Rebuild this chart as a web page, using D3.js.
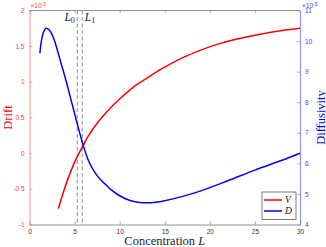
<!DOCTYPE html>
<html>
<head>
<meta charset="utf-8">
<script src="https://cdn.jsdelivr.net/npm/d3@7"></script>
<style>
  body { margin: 0; background: #fff; }
  svg { display: block; }
  .tick-label { font-family: "Liberation Sans", Arial, sans-serif; font-size: 6.5px; }
  .axis-label { font-family: "Liberation Serif", "Times New Roman", serif; font-size: 12.5px; }
</style>
</head>
<body>
<div id="chart-area"></div>
<script>
// drift V (x 1e-3) against concentration L
const driftL = [3.2, 3.75, 4.5, 5.25, 6, 6.5, 7.5, 8.5, 9.3, 10, 11.15, 12, 13, 14.5, 17, 19, 20.8, 23, 25.6, 28, 30];
const driftV = [-0.78, -0.55, -0.28, -0.06, 0.12, 0.235, 0.42, 0.57, 0.676, 0.76, 0.887, 0.97, 1.05, 1.17, 1.34, 1.445, 1.525, 1.6, 1.668, 1.718, 1.75];

// diffusivity D (x 1e-5) against concentration L
const diffL = [1.15, 1.5, 1.85, 2.2, 2.6, 3, 3.5, 4, 4.5, 5, 5.5, 6, 6.5, 7, 7.5, 8, 8.5, 9, 10, 11, 12, 13, 14, 15, 17, 19, 22, 25, 28, 30];
const diffD = [9.6, 10.25, 10.42, 10.36, 10.15, 9.8, 9.27, 8.76, 8.2, 7.63, 7.07, 6.55, 6.12, 5.82, 5.6, 5.43, 5.29, 5.15, 4.94, 4.8, 4.73, 4.71, 4.73, 4.78, 4.92, 5.1, 5.43, 5.78, 6.1, 6.33];

const xTicks = [0, 5, 10, 15, 20, 25, 30];
const driftTicks = [-1, -0.5, 0, 0.5, 1, 1.5, 2];
const diffTicks = [4, 5, 6, 7, 8, 9, 10, 11];
const markers = [{ name: "0", L: 5.3 }, { name: "1", L: 5.85 }];
const legendItems = [{ name: "V", color: "#ff0000" }, { name: "D", color: "#0000ff" }];

const drawChart = () => {
  const chartSize = { width: 326, height: 247 };
  const margin = { left: 29.5, right: 26, top: 10.5, bottom: 22.5 };
  const width = chartSize.width - (margin.left + margin.right);
  const height = chartSize.height - (margin.top + margin.bottom);
  const fmt = d => String(d);

  const x = d3.scaleLinear().domain([0, 30]).range([0, width]);
  const yLeft = d3.scaleLinear().domain([-1, 2]).range([height, 0]);
  const yRight = d3.scaleLinear().domain([4, 11]).range([height, 0]);

  const svg = d3
    .select("#chart-area")
    .append("svg")
    .attr("width", chartSize.width)
    .attr("height", chartSize.height);

  const g = svg
    .append("g")
    .attr("transform", `translate(${margin.left}, ${margin.top})`);

  // box top
  g.append("line").attr("x1", 0).attr("x2", width).attr("y1", 0).attr("y2", 0)
    .attr("stroke", "#777").attr("stroke-width", 0.8);

  const xAxis = d3.axisBottom(x).tickValues(xTicks).tickFormat(fmt)
    .tickSizeInner(-3).tickSizeOuter(0).tickPadding(5);
  const xg = g.append("g")
    .attr("class", "x-axis")
    .attr("transform", `translate(0, ${height})`)
    .call(xAxis);
  xg.select(".domain").attr("stroke", "#777").attr("stroke-width", 0.8);
  xg.selectAll("line").attr("stroke", "#777").attr("stroke-width", 0.6);
  xg.selectAll("text").attr("class", "tick-label").attr("fill", "#333").attr("font-size", null).attr("font-family", null);

  const xTop = d3.axisTop(x).tickValues(xTicks).tickSizeInner(-3).tickSizeOuter(0).tickFormat("");
  const xt = g.append("g").call(xTop);
  xt.select(".domain").remove();
  xt.selectAll("line").attr("stroke", "#777").attr("stroke-width", 0.6);

  const yAxisL = d3.axisLeft(yLeft).tickValues(driftTicks).tickFormat(fmt)
    .tickSizeInner(-3).tickSizeOuter(0).tickPadding(5);
  const yl = g.append("g").call(yAxisL);
  yl.select(".domain").attr("stroke", "#ff7070").attr("stroke-width", 0.8);
  yl.selectAll("line").attr("stroke", "#ff7070").attr("stroke-width", 0.6);
  yl.selectAll("text").attr("class", "tick-label").attr("fill", "#ff4040").attr("font-size", null).attr("font-family", null);

  const yAxisR = d3.axisRight(yRight).tickValues(diffTicks).tickFormat(fmt)
    .tickSizeInner(-3).tickSizeOuter(0).tickPadding(5);
  const yr = g.append("g").attr("transform", `translate(${width}, 0)`).call(yAxisR);
  yr.select(".domain").attr("stroke", "#7070ff").attr("stroke-width", 0.8);
  yr.selectAll("line").attr("stroke", "#7070ff").attr("stroke-width", 0.6);
  yr.selectAll("text").attr("class", "tick-label").attr("fill", "#4040ff").attr("font-size", null).attr("font-family", null);

  // exponent labels
  const expo = (xPos, color, p) => {
    const t = g.append("text").attr("class", "tick-label").attr("x", xPos).attr("y", -3).attr("fill", color);
    t.append("tspan").text("×10");
    t.append("tspan").attr("dy", -2).attr("font-size", "5px").text(p);
  };
  expo(1, "#ff4040", "-3");
  expo(width + 2, "#4040ff", "-5");

  // dashed marker lines
  g.selectAll(".marker")
    .data(markers)
    .enter()
    .append("line")
    .attr("x1", d => x(d.L)).attr("x2", d => x(d.L))
    .attr("y1", 0).attr("y2", height)
    .attr("stroke", "#8c8c8c").attr("stroke-width", 1)
    .attr("stroke-dasharray", "4,2.5");

  markers.forEach((m, i) => {
    const t = g.append("text")
      .attr("class", "axis-label")
      .style("font-size", "11.5px")
      .attr("x", i === 0 ? x(m.L) - 2.5 : x(m.L) + 2.5)
      .attr("y", 10)
      .attr("text-anchor", i === 0 ? "end" : "start")
      .attr("fill", "#222");
    t.append("tspan").attr("font-style", "italic").text("L");
    t.append("tspan").style("font-size", "8px").attr("dy", 2).text(m.name);
  });

  const line = (xs, ys, scale) =>
    d3.line().x((d, i) => x(xs[i])).y(d => scale(d)).curve(d3.curveCatmullRom.alpha(0.5))(ys);

  g.append("path").attr("d", line(driftL, driftV, yLeft))
    .attr("fill", "none").attr("stroke", "#ff0000").attr("stroke-width", 1.5);
  g.append("path").attr("d", line(diffL, diffD, yRight))
    .attr("fill", "none").attr("stroke", "#0000ff").attr("stroke-width", 1.5);

  // axis labels
  g.append("text")
    .attr("class", "axis-label")
    .attr("x", width / 2)
    .attr("y", height + 20.5)
    .attr("text-anchor", "middle")
    .attr("fill", "#222")
    .call(t => {
      t.append("tspan").text("Concentration ");
      t.append("tspan").attr("font-style", "italic").text("L");
    });

  g.append("text")
    .attr("class", "axis-label")
    .attr("transform", `translate(${-18}, ${height / 2}) rotate(-90)`)
    .attr("text-anchor", "middle")
    .attr("fill", "#ff0000")
    .text("Drift");

  g.append("text")
    .attr("class", "axis-label")
    .attr("transform", `translate(${width + 24.5}, ${height / 2}) rotate(-90)`)
    .attr("text-anchor", "middle")
    .attr("fill", "#0000ff")
    .text("Diffusivity");

  // legend
  const lg = g.append("g").attr("transform", `translate(${width - 38}, ${height - 32.5})`);
  lg.append("rect").attr("width", 34).attr("height", 27.5)
    .attr("fill", "#fff").attr("stroke", "#444").attr("stroke-width", 0.7);
  legendItems.forEach((d, i) => {
    lg.append("line").attr("x1", 2).attr("x2", 20)
      .attr("y1", 8 + i * 11).attr("y2", 8 + i * 11)
      .attr("stroke", d.color).attr("stroke-width", 1.5);
    lg.append("text").attr("class", "axis-label").style("font-size", "9.5px")
      .attr("font-style", "italic")
      .attr("x", 23).attr("y", 11.3 + i * 11).attr("fill", "#111").text(d.name);
  });
};

const main = () => {
  drawChart();
};

window.onload = main;
</script>
</body>
</html>
